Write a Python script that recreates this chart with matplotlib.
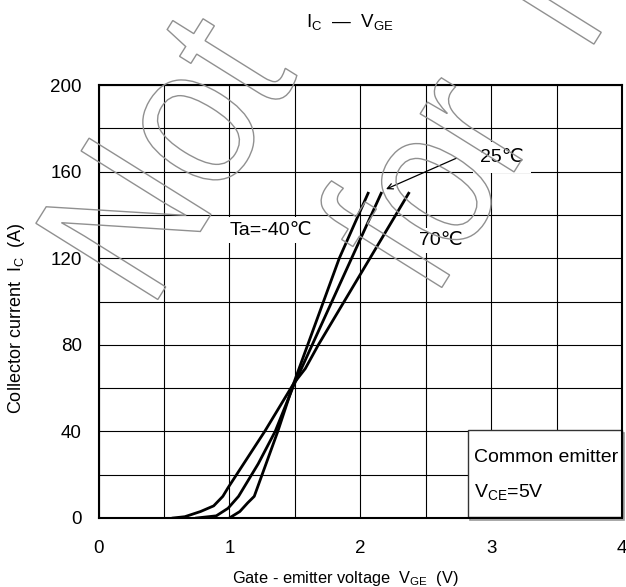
import numpy as np
import matplotlib
matplotlib.use('Agg')
import matplotlib.pyplot as plt
from matplotlib.textpath import TextPath
from matplotlib.patches import PathPatch, Rectangle
from matplotlib.font_manager import FontProperties
from matplotlib.transforms import Affine2D, IdentityTransform

plt.rcParams['font.family'] = ['Liberation Sans', 'DejaVu Sans', 'Noto Sans CJK JP']
plt.rcParams['mathtext.fontset'] = 'custom'
plt.rcParams['mathtext.rm'] = 'Liberation Sans'
plt.rcParams['mathtext.it'] = 'Liberation Sans'
plt.rcParams['mathtext.bf'] = 'Liberation Sans:bold'

# ---- data ----
vge_m40 = [1.00, 1.08, 1.14, 1.19, 1.37, 1.49, 1.84, 2.06]
ic_m40 = [0, 3, 7, 10, 40, 62, 120, 150]

vge_25 = [0.75, 0.90, 0.99, 1.07, 1.22, 1.35, 1.49, 2.16]
ic_25 = [0, 1, 4.5, 10, 25, 40, 61, 150]

vge_70 = [0.57, 0.66, 0.78, 0.88, 0.95, 0.99, 1.27, 1.49, 1.58, 1.68, 2.37]
ic_70 = [0, 0.6, 3, 5.6, 10, 14, 40, 62, 69, 80, 150]

x_ticks = [0, 1, 2, 3, 4]
y_ticks = [0, 40, 80, 120, 160, 200]

W, H = 626, 587
fig = plt.figure(figsize=(W / 100, H / 100), dpi=100)
ax = fig.add_axes([98.5 / W, 1 - 518 / H, (622 - 98.5) / W, (518 - 85) / H])
ax.set_xlim(0, 4)
ax.set_ylim(0, 200)
ax.set_xticks(x_ticks)
ax.set_xticks(np.arange(0, 4.01, 0.5), minor=True)
ax.set_yticks(y_ticks)
ax.set_yticks(np.arange(0, 201, 20), minor=True)
ax.grid(which='both', color='black', lw=0.8)
ax.set_axisbelow(True)
ax.tick_params(which='both', length=0, labelsize=13.5)
ax.tick_params(axis='x', pad=16)
ax.tick_params(axis='y', pad=12)
for s in ax.spines.values():
    s.set_linewidth(1.5)
    s.set_zorder(5)

for xs, ys in [(vge_m40, ic_m40), (vge_25, ic_25), (vge_70, ic_70)]:
    ax.plot(xs, ys, color='black', lw=2.0, zorder=3)

tb = dict(fc='white', ec='none', pad=3)
ax.text(1.0, 133, 'Ta=-40℃', fontsize=14, ha='left', va='center', bbox=tb, zorder=4)
ax.text(2.45, 128, '70℃', fontsize=14, ha='left', va='center', bbox=tb, zorder=4)
ax.text(2.915, 166.7, '25℃', fontsize=14, ha='left', va='center',
        bbox=dict(fc='white', ec='none', pad=5), zorder=4)
ax.annotate('', xy=(2.197, 151.9), xytext=(2.735, 166.2),
            arrowprops=dict(arrowstyle='->', color='black', lw=0.9,
                            shrinkA=0, shrinkB=0), zorder=4)

# condition box
ax.add_patch(Rectangle((2.835, -0.8), 1.18, 40.2, fc='none', ec='#999999', lw=1.2,
                       zorder=5, clip_on=False))
ax.add_patch(Rectangle((2.82, 0.6), 1.18, 40.1, fc='white', ec='#333333', lw=1.0,
                       zorder=5, clip_on=False))
ax.text(2.866, 27.9, 'Common emitter', fontsize=14, ha='left', va='center', zorder=6)
ax.text(2.866, 12.0, r'$\mathrm{V_{CE}}$=5V', fontsize=14, ha='left', va='center', zorder=6)

# titles / axis labels
fig.text(350 / W, 1 - 22 / H, r'$\mathrm{I_C}$  —  $\mathrm{V_{GE}}$', fontsize=13.5,
         ha='center', va='center')
fig.text(345 / W, 1 - 578 / H, r'Gate - emitter voltage  $\mathrm{V_{GE}}$  (V)',
         fontsize=11.8, ha='center', va='center')
fig.text(17 / W, 1 - 318 / H, r'Collector current  $\mathrm{I_C}$  (A)', fontsize=13,
         ha='center', va='center', rotation=90)

# outlined watermark
fp = FontProperties(family='Liberation Sans')
def watermark(s, x0, y0, sx):
    tp = TextPath((0, 0), s, size=209, prop=fp)
    tr = Affine2D().scale(sx, 1).rotate_deg(58).translate(x0, y0)
    p = tr.transform_path(tp)
    fig.add_artist(PathPatch(p, transform=IdentityTransform(), fill=False,
                             ec='#909090', lw=1.0, zorder=10))

watermark('Not', 150, H - 312, 0.86)
watermark('for  New', 434, H - 300, 0.8)

fig.savefig('out.png', dpi=100)
